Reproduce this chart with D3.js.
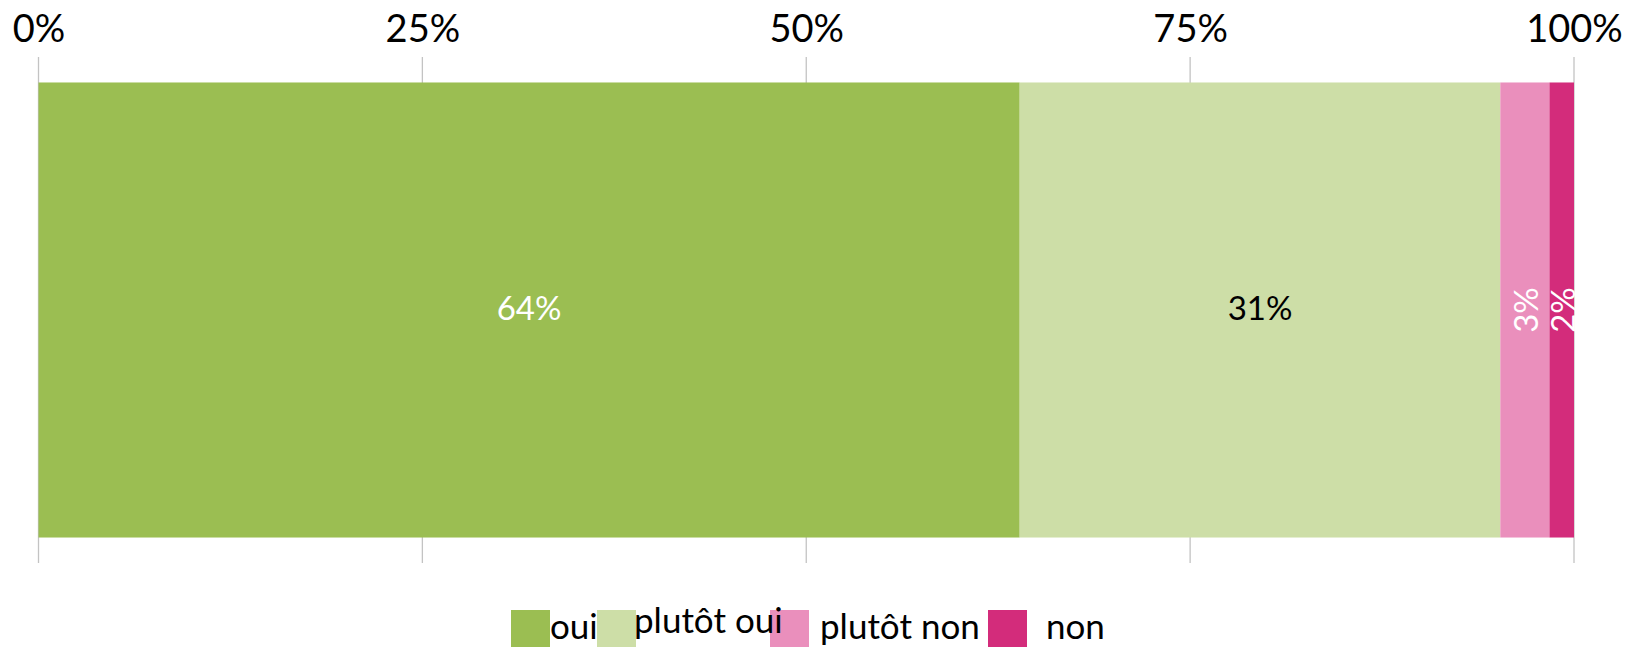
<!DOCTYPE html>
<html>
<head>
<meta charset="utf-8">
<script src="https://cdn.jsdelivr.net/npm/d3@7"></script>
<style>
  html, body { margin: 0; padding: 0; background: #fff; }
  svg { display: block; font-family: Lato, "Open Sans", sans-serif; }
</style>
</head>
<body>
<div id="app"></div>
<script>
const width = 1627
const height = 647

// data
const categories = ['oui', 'plutôt oui', 'plutôt non', 'non']
const values = [0.639, 0.313, 0.032, 0.016]
const labels = ['64%', '31%', '3%', '2%']
const ticks = [0, 0.25, 0.5, 0.75, 1]

const colors = ['#9bbe52', '#cddea7', '#ea8fbc', '#d32c7b']
const labelColors = ['#fff', '#000', '#fff', '#fff']
const rotated = [false, false, true, true]

// legend placement (Excel lays these out a bit oddly)
const legendSwatchX = [511, 597, 770, 988]
const legendTextX = [550, 634, 820, 1046]
const legendTextY = [639, 633, 639, 639]

const x = d3.scaleLinear()
    .domain([0, 1])
    .range([38.5, 1574])

const y = d3.scaleBand()
    .domain(['row'])
    .range([57, 563])
    .paddingInner(0)
    .paddingOuter(0.056)

const svg = d3.select('#app').append('svg')
    .attr('width', width)
    .attr('height', height)

// gridlines
svg.append('g')
    .selectAll('line')
    .data(ticks)
    .join('line')
    .attr('x1', d => x(d))
    .attr('x2', d => x(d))
    .attr('y1', 57)
    .attr('y2', 563)
    .attr('stroke', '#c3c3c3')
    .attr('stroke-width', 1.3)

// axis labels on top
svg.append('g')
    .attr('transform', 'translate(0, 42)')
    .call(d3.axisTop(x).tickValues(ticks).tickFormat(d3.format('.0%')).tickSize(0).tickPadding(0))
    .call(g => g.select('.domain').remove())
    .call(g => g.selectAll('text')
        .attr('dy', 0)
        .attr('fill', '#000')
        .attr('font-family', 'Lato, sans-serif')
        .attr('font-size', 38))

// stacked segments
let acc = 0
const segs = values.map((v, i) => {
    const s = { i, x0: acc, x1: acc + v }
    acc += v
    return s
})

svg.append('g')
    .selectAll('rect')
    .data(segs)
    .join('rect')
    .attr('x', d => x(d.x0))
    .attr('y', y('row'))
    .attr('width', d => x(d.x1) - x(d.x0))
    .attr('height', y.bandwidth())
    .attr('fill', d => colors[d.i])

const cy = y('row') + y.bandwidth() / 2

svg.append('g')
    .selectAll('text')
    .data(segs)
    .join('text')
    .attr('transform', d => {
        const cx = (x(d.x0) + x(d.x1)) / 2
        return rotated[d.i] ? `translate(${cx},${cy}) rotate(-90)` : `translate(${cx},${cy - 3})`
    })
    .attr('text-anchor', 'middle')
    .attr('dominant-baseline', 'central')
    .attr('font-size', 33)
    .attr('fill', d => labelColors[d.i])
    .text(d => labels[d.i])

// legend
const legend = svg.append('g')
legend.selectAll('rect')
    .data(categories)
    .join('rect')
    .attr('x', (d, i) => legendSwatchX[i])
    .attr('y', 610)
    .attr('width', 39)
    .attr('height', 37)
    .attr('fill', (d, i) => colors[i])

legend.selectAll('text')
    .data(categories)
    .join('text')
    .attr('x', (d, i) => legendTextX[i])
    .attr('y', (d, i) => legendTextY[i])
    .attr('font-size', 35)
    .attr('fill', '#000')
    .text(d => d)
</script>
</body>
</html>
